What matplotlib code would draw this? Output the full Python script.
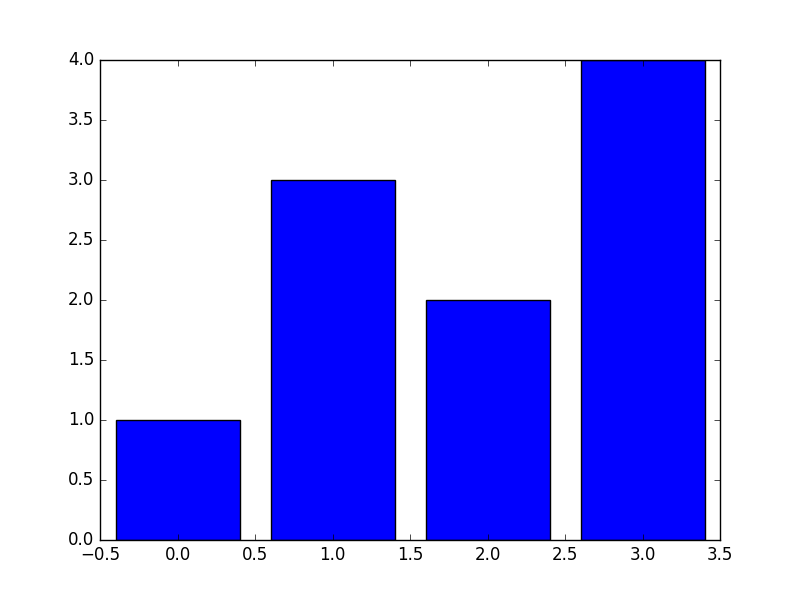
import matplotlib
matplotlib.use("Agg")
import matplotlib.pyplot as plt

positions = [0, 1, 2, 3]
heights = [1, 3, 2, 4]

plt.style.use("classic")

fig = plt.figure(figsize=(8, 6), dpi=100, facecolor="white")
ax = fig.add_subplot(111)

ax.bar(positions, heights, width=0.8, align="center", color="b", edgecolor="k")

ax.set_xlim(-0.5, 3.5)
ax.set_ylim(0, 4)

fig.savefig("out.png", dpi=100, facecolor="white")
